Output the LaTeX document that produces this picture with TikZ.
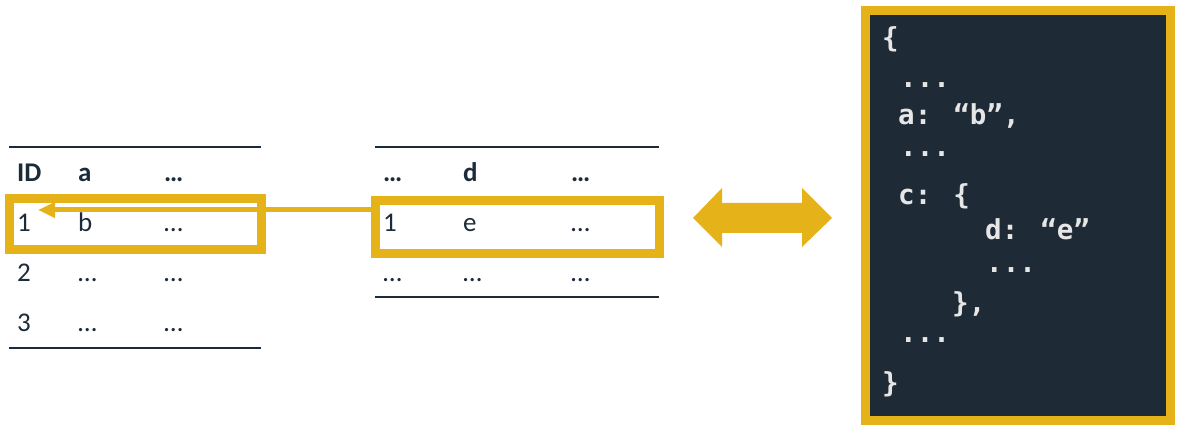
\documentclass[tikz,border=0pt]{standalone}
\usepackage{fontspec}
\setmainfont{Carlito}
\newfontfamily\codefont{DejaVu Sans Mono}
\usetikzlibrary{arrows.meta}
\definecolor{gold}{HTML}{E6B21A}
\definecolor{navy}{HTML}{1C2B3A}
\definecolor{codebg}{HTML}{1E2B37}
\definecolor{codetx}{HTML}{E6E6E6}
\tikzset{
  cell/.style={anchor=base west, inner sep=0pt, text=navy, font=\fontsize{27}{32}\selectfont},
  hcell/.style={cell, font=\fontsize{27}{32}\selectfont\bfseries},
  rule/.style={navy, line width=2},
  hilite/.style={draw=gold, line width=9, inner sep=0pt},
  code/.style={anchor=base west, inner sep=0pt, text=codetx, font=\codefont\bfseries\fontsize{27.5}{33}\selectfont},
}
\begin{document}
\begin{tikzpicture}[x=1pt,y=-1pt]
\useasboundingbox (0,0) rectangle (1179,430);
% left table
\draw[rule] (9,147) -- (261,147);
\draw[rule] (9,348) -- (261,348);
\node[hcell] (lh1) at (17,182) {ID};
\node[hcell] (lh2) at (78,182) {a};
\node[hcell] (lh3) at (164,182) {…};
\node[cell] (l11) at (17,232) {1};
\node[cell] (l12) at (78,232) {b};
\node[cell] (l13) at (164,232) {…};
\node[cell] (l21) at (17,282) {2};
\node[cell] (l22) at (78,282) {…};
\node[cell] (l23) at (164,282) {…};
\node[cell] (l31) at (17,332) {3};
\node[cell] (l32) at (78,332) {…};
\node[cell] (l33) at (164,332) {…};
\node[hilite, minimum width=252, minimum height=51.5] (lbox) at (135.5,224.25) {};
% right table
\draw[rule] (375,147) -- (659,147);
\draw[rule] (375,297) -- (659,297);
\node[hcell] (rh1) at (383,182) {…};
\node[hcell] (rh2) at (463,182) {d};
\node[hcell] (rh3) at (571,182) {…};
\node[cell] (r11) at (383,232) {1};
\node[cell] (r12) at (463,232) {e};
\node[cell] (r13) at (571,232) {…};
\node[cell] (r21) at (383,282) {…};
\node[cell] (r22) at (463,282) {…};
\node[cell] (r23) at (571,282) {…};
\node[hilite, minimum width=284, minimum height=53] (rbox) at (517.5,227) {};
% arrow
\coordinate (tip) at (38,210);
\draw[gold, line width=5, -{Triangle[length=17pt,width=15pt]}] (rbox.west |- tip) -- (tip);
% double arrow
\fill[gold] (693,218) -- (722,188) -- (722,203) -- (802,203) -- (802,188) -- (832,218)
  -- (802,247) -- (802,233) -- (722,233) -- (722,247) -- cycle;
% code box
\node[hilite, fill=codebg, minimum width=304.5, minimum height=410.5] (cbox) at (1017.75,215.75) {};
\node[code] (c1) at (882,48) {\{};
\node[code] (c2) at (900,88) {...};
\node[code] (c3) at (898,125) {a: “b”,};
\node[code] (c4) at (900,157) {...};
\node[code] (c5) at (898,205) {c: \{};
\node[code] (c6) at (985,240) {d: “e”};
\node[code] (c7) at (986,273) {...};
\node[code] (c8) at (952,313) {\},};
\node[code] (c9) at (900,343) {...};
\node[code] (c10) at (882,393) {\}};
\end{tikzpicture}
\end{document}
